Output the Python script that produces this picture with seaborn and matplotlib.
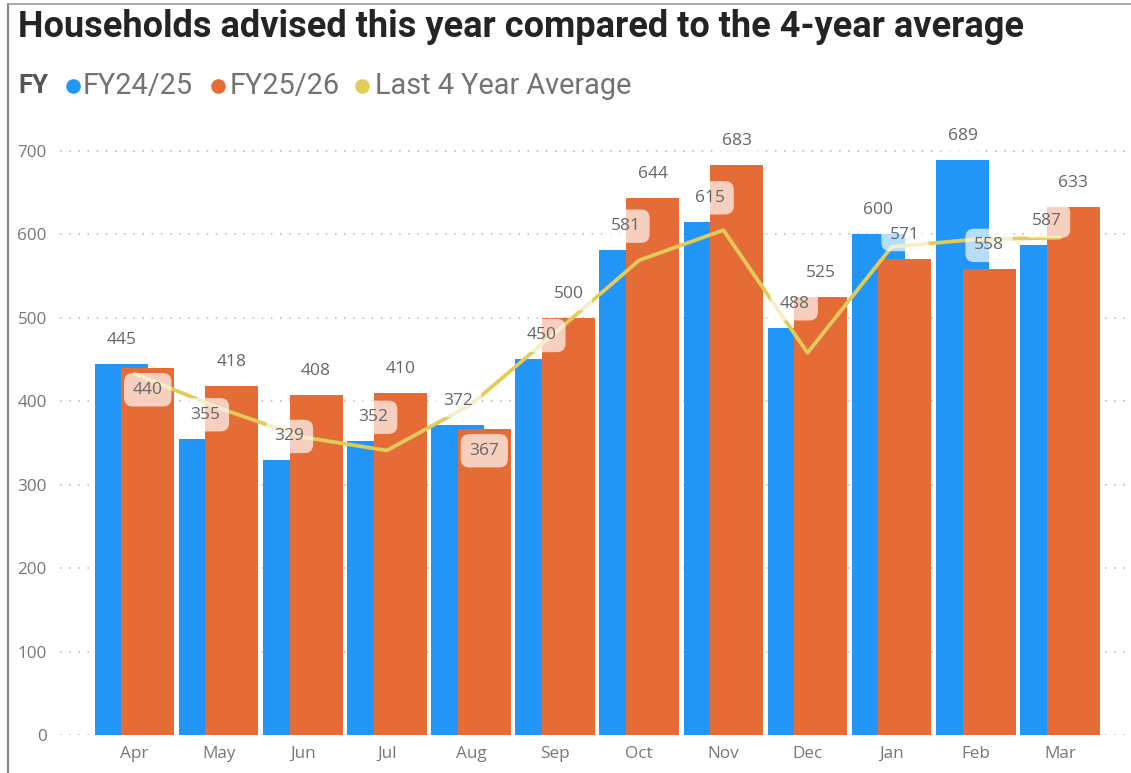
import numpy as np
import pandas as pd
import matplotlib
matplotlib.use("Agg")
import matplotlib.pyplot as plt
import seaborn as sns
from matplotlib.lines import Line2D

# ---------------- data ----------------
months = ["Apr", "May", "Jun", "Jul", "Aug", "Sep", "Oct", "Nov", "Dec", "Jan", "Feb", "Mar"]
fy2425 = [445, 355, 329, 352, 372, 450, 581, 615, 488, 600, 689, 587]
fy2526 = [440, 418, 408, 410, 367, 500, 644, 683, 525, 571, 558, 633]
avg4 = [433, 392, 357, 341, 396, 482, 569, 605, 458, 585, 594, 596]
series_names = ["FY24/25", "FY25/26", "Last 4 Year Average"]
legend_title = "FY"
title = "Households advised this year compared to the 4-year average"
yticks = [0, 100, 200, 300, 400, 500, 600, 700]

# ---------------- style ----------------
BLUE = "#2196F6"
ORANGE = "#E66C37"
YELLOW = "#E3CB5A"
TXT = "#666666"

sns.set_theme(style="white")
plt.rcParams["font.family"] = ["Open Sans", "DejaVu Sans"]

W, H = 1131, 773
fig = plt.figure(figsize=(W / 100, H / 100), dpi=100)
fig.patch.set_facecolor("white")

ax_left, ax_bottom, ax_top = 60, 735, 115
ax = fig.add_axes([ax_left / W, (H - ax_bottom) / H, 1 - ax_left / W, (ax_bottom - ax_top) / H])

pos = np.arange(len(months))
BW = 0.63
OFF = 0.158

df_b = pd.DataFrame({"x": pos - OFF, "v": fy2425})
df_o = pd.DataFrame({"x": pos + OFF, "v": fy2526})
sns.barplot(data=df_b, x="x", y="v", native_scale=True, width=BW, color=BLUE,
            saturation=1, errorbar=None, linewidth=0, ax=ax, zorder=2)
sns.barplot(data=df_o, x="x", y="v", native_scale=True, width=BW, color=ORANGE,
            saturation=1, errorbar=None, linewidth=0, ax=ax, zorder=2)
sns.lineplot(x=pos, y=avg4, color=YELLOW, linewidth=2.7, ax=ax, zorder=3)

ymax = 743
ax.set_ylim(0, ymax)
ax.set_xlim(-0.886, len(months) - 1 + 0.845)
ax.set_xticks(pos)
ax.set_xticklabels(months)
ax.set_yticks(yticks)
ax.set_yticklabels([str(t) for t in yticks])
ax.set_xlabel("")
ax.set_ylabel("")
for s in ax.spines.values():
    s.set_visible(False)
ax.tick_params(axis="both", length=0, labelsize=12.3, labelcolor="#777777")
ax.tick_params(axis="y", pad=9.5)
ax.tick_params(axis="x", pad=8)
ax.yaxis.grid(True, linestyle=(0, (1, 5)), color="#B5B5B5", linewidth=1.1, zorder=0)
ax.set_axisbelow(True)
if ax.get_legend() is not None:
    ax.get_legend().remove()

# data labels
px_per_unit = (ax_bottom - ax_top) / ymax
above = 24 * 72 / 100
inside = -22 * 72 / 100
bbox = dict(boxstyle="round,pad=0.5,rounding_size=0.5", fc="white", ec="none", alpha=0.68)
for i in range(len(months)):
    b, o = fy2425[i], fy2526[i]
    ax.annotate(str(b), xy=(i - OFF, b), xytext=(0, above), textcoords="offset points",
                ha="center", va="center", fontsize=12.5, color=TXT, bbox=bbox, zorder=6)
    off_o = inside if abs(o - b) * px_per_unit < 20 else above
    ax.annotate(str(o), xy=(i + OFF, o), xytext=(0, off_o), textcoords="offset points",
                ha="center", va="center", fontsize=12.5, color=TXT, bbox=bbox, zorder=6)

# ---------------- title & legend ----------------
def fit(t, target_px):
    fig.canvas.draw()
    r = fig.canvas.get_renderer()
    w = t.get_window_extent(r).width
    t.set_fontsize(t.get_fontsize() * target_px / w)

ttl = fig.text(18 / W, 1 - 27 / H, title, fontsize=24, fontweight="bold", color="#252423",
               ha="left", va="center", family=["Roboto", "DejaVu Sans"])
fit(ttl, 1007)

ly = 1 - 86 / H
fy_t = fig.text(18 / W, ly, legend_title, fontsize=17, fontweight="bold", color="#555555",
                ha="left", va="center", family=["Roboto", "DejaVu Sans"])
fit(fy_t, 30)
leg_x = [83, 230, 375]
dot_x = [73, 218, 362]
widths = [112, 110, 257]
cols = [BLUE, ORANGE, YELLOW]
texts = []
for name, lx, dx, c in zip(series_names, leg_x, dot_x, cols):
    t = fig.text(lx / W, ly, name, fontsize=17, color="#737373", ha="left", va="center",
                 family=["Roboto", "DejaVu Sans"])
    texts.append(t)
    fig.add_artist(Line2D([dx / W], [ly], marker="o", markersize=10.5, color=c,
                          markeredgewidth=0, transform=fig.transFigure))
fit(texts[2], widths[2])
for t in texts[:2]:
    t.set_fontsize(texts[2].get_fontsize())

# frame
fig.add_artist(Line2D([8 / W, 8 / W], [0, 1 - 4 / H], color="#8A8A8A", lw=1.6,
                      transform=fig.transFigure))
fig.add_artist(Line2D([8 / W, 1], [1 - 4 / H, 1 - 4 / H], color="#9A9A9A", lw=1.2,
                      transform=fig.transFigure))

fig.savefig("out.png", dpi=100, facecolor="white")
